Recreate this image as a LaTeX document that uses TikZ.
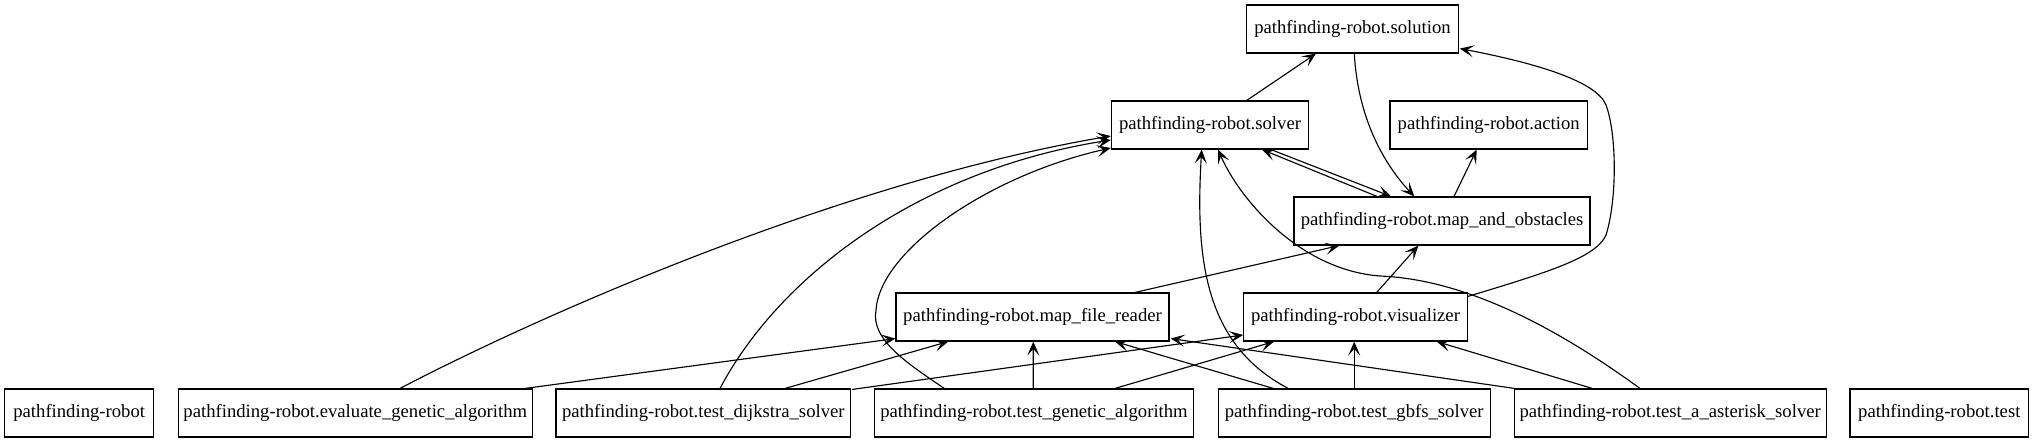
\documentclass[tikz,border=0pt]{standalone}
\usepackage{fontspec}
\setmainfont{Liberation Serif}
\usetikzlibrary{arrows.meta,calc}
\tikzset{
  mod/.style={draw, rectangle, line width=0.85pt, minimum height=36pt, inner sep=0pt,
    font=\fontsize{14}{16}\selectfont, anchor=center},
  dep/.style={line width=0.85pt, -{Stealth[length=10.5pt,width=9pt,inset=5pt]}},
}
\begin{document}
\begin{tikzpicture}[x=0.75pt,y=-0.75pt]
\useasboundingbox (0,0) rectangle (2034,443);
% bottom row
\node[mod, minimum width=111.75pt] (pr) at (79.2,413) {pathfinding-robot};
\node[mod, minimum width=265.5pt] (evaluate) at (355.3,413) {pathfinding-robot.evaluate\_genetic\_algorithm};
\node[mod, minimum width=221pt] (dijkstra) at (703.3,413) {pathfinding-robot.test\_dijkstra\_solver};
\node[mod, minimum width=239.5pt] (genetic) at (1034,413) {pathfinding-robot.test\_genetic\_algorithm};
\node[mod, minimum width=203.8pt] (gbfs) at (1354.2,413) {pathfinding-robot.test\_gbfs\_solver};
\node[mod, minimum width=234.2pt] (astar) at (1670.2,413) {pathfinding-robot.test\_a\_asterisk\_solver};
\node[mod, minimum width=134pt] (test) at (1939.3,413) {pathfinding-robot.test};
% upper rows
\node[mod, minimum width=204.75pt] (mfr) at (1032.5,317) {pathfinding-robot.map\_file\_reader};
\node[mod, minimum width=167.7pt] (vis) at (1355.5,317) {pathfinding-robot.visualizer};
\node[mod, minimum width=222pt] (mao) at (1442,221) {pathfinding-robot.map\_and\_obstacles};
\node[mod, minimum width=148pt] (solver) at (1210,125) {pathfinding-robot.solver};
\node[mod, minimum width=148pt] (action) at (1488.7,125) {pathfinding-robot.action};
\node[mod, minimum width=158.7pt] (solution) at (1352.5,29) {pathfinding-robot.solution};

% edges among upper nodes
\draw[dep] ($(solver.north)+(36.7,0)$) -- ($(solution.south)+(-36.5,0)$);
\draw[dep] ($(solution.south)+(1.8,0)$) .. controls (1358,120) and (1385,165) .. ($(mao.north)+(-27.7,0)$);
\draw[dep] ($(mao.north)+(12,0)$) -- ($(action.south)+(-12,0)$);
\draw[dep] ($(mao.north)+(-65,0)$) -- ($(solver.south)+(52,0)$);
\draw[dep] ($(solver.south)+(61,0)$) -- ($(mao.north)+(-51,0)$);
\draw[dep] ($(mfr.north)+(102.5,0)$) -- ($(mao.south)+(-102.7,0)$);
\draw[dep] ($(vis.north)+(21.2,0)$) -- ($(mao.south)+(-23.7,0)$);
\draw[dep] ($(vis.north east)+(0,4)$) .. controls (1545,273) and (1596,258) .. (1606,235)
  .. controls (1617,200) and (1617,135) .. (1606,105)
  .. controls (1596,80) and (1530,62) .. ($(solution.south east)+(1,-5)$);

% edges into solver from bottom row
\draw[dep] ($(evaluate.north)+(44.7,0)$) .. controls (550,310) and (850,180) .. ($(solver.west)+(0,11)$);
\draw[dep] ($(dijkstra.north)+(16.7,0)$) .. controls (780,275) and (920,170) .. ($(solver.west)+(0,15)$);
\draw[dep] ($(genetic.north)+(-89.7,0)$) .. controls (910,365) and (870,340) .. (876,310)
  .. controls (880,250) and (990,175) .. ($(solver.west)+(0,23)$);
\draw[dep] ($(gbfs.north)+(-65.9,0)$) .. controls (1205,345) and (1195,260) .. ($(solver.south)+(-8.3,0)$);
\draw[dep] ($(astar.north)+(-30.2,0)$) .. controls (1580,345) and (1480,280) .. (1380,276)
  .. controls (1300,270) and (1240,200) .. ($(solver.south)+(8,0)$);

% edges into map_file_reader and visualizer
\draw[dep] ($(evaluate.north)+(169.7,0)$) -- ($(mfr.south west)+(0,-3)$);
\draw[dep] ($(dijkstra.north)+(81.7,0)$) -- ($(mfr.south)+(-84.2,0)$);
\draw[dep] ($(dijkstra.north east)+(1,1)$) -- ($(vis.west)+(0,18)$);
\draw[dep] ($(genetic.north)+(-0.7,0)$) -- ($(mfr.south)+(0.8,0)$);
\draw[dep] ($(genetic.north)+(81,0)$) -- ($(vis.south)+(-81.5,0)$);
\draw[dep] ($(gbfs.north)+(-80.9,0)$) -- ($(mfr.south)+(82.5,0)$);
\draw[dep] (gbfs.north) -- (gbfs.north |- vis.south);
\draw[dep] ($(astar.north west)+(1,0)$) -- ($(mfr.south east)+(1,-3)$);
\draw[dep] ($(astar.north)+(-77.9,0)$) -- ($(vis.south)+(81.2,0)$);
\end{tikzpicture}
\end{document}
